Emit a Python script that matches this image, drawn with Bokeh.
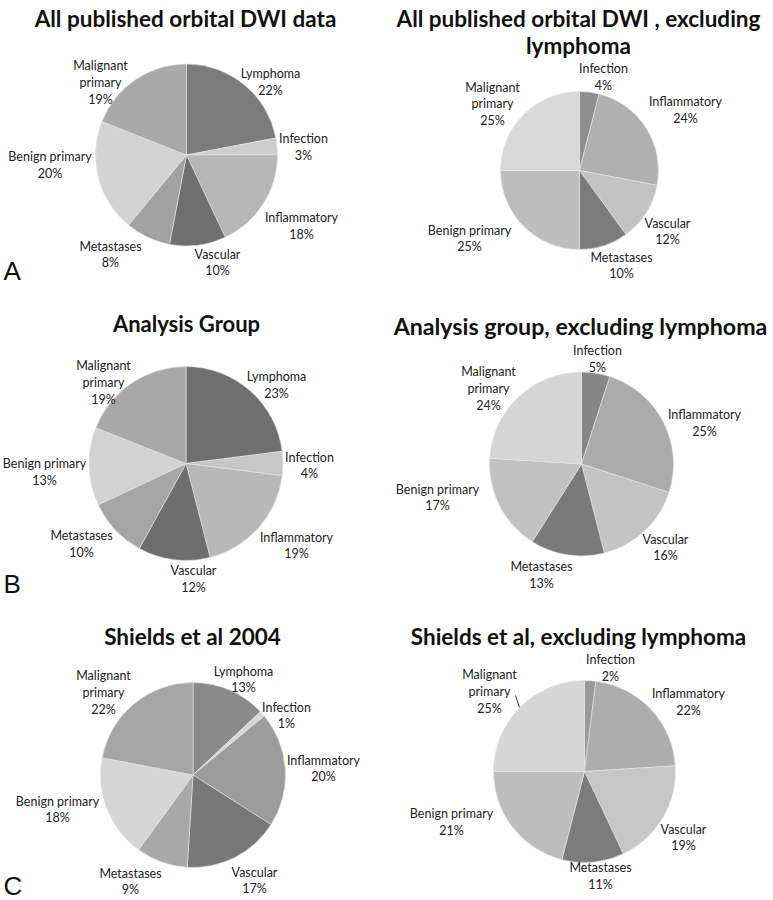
import math
from bokeh.plotting import figure
from bokeh.models import Range1d, ColumnDataSource
from bokeh.core.properties import value
from bokeh.embed import file_html
from bokeh.resources import INLINE

# ---------------- data ----------------
cats_all = ["Lymphoma", "Infection", "Inflammatory", "Vascular",
            "Metastases", "Benign primary", "Malignant primary"]
cats_excl = ["Infection", "Inflammatory", "Vascular",
             "Metastases", "Benign primary", "Malignant primary"]

titles = ["All published orbital DWI data",
          "All published orbital DWI , excluding\nlymphoma",
          "Analysis Group",
          "Analysis group, excluding lymphoma",
          "Shields et al 2004",
          "Shields et al, excluding lymphoma"]

a_all = [22, 3, 18, 10, 8, 20, 19]
a_excl = [4, 24, 12, 10, 25, 25]
b_all = [23, 4, 19, 12, 10, 13, 19]
b_excl = [5, 25, 16, 13, 17, 24]
c_all = [13, 1, 20, 17, 9, 18, 22]
c_excl = [2, 22, 19, 11, 21, 25]

panel_letters = ["A", "B", "C"]

# ---------------- styling / layout ----------------
W, H = 773, 900
def Y(py):  # page pixel -> data y
    return H - py

colors_all_sets = [
    ["#7b7b7b", "#cdcdcd", "#b6b6b6", "#6f6f6f", "#a2a2a2", "#d3d3d3", "#a9a9a9"],
    ["#6f6f6f", "#c6c6c6", "#b8b8b8", "#6e6e6e", "#a5a5a5", "#d2d2d2", "#a8a8a8"],
    ["#8a8a8a", "#d6d6d6", "#9c9c9c", "#787878", "#a8a8a8", "#d6d6d6", "#a6a6a6"],
]
colors_excl_sets = [
    ["#8e8e8e", "#b0b0b0", "#c2c2c2", "#7b7b7b", "#bebebe", "#d8d8d8"],
    ["#868686", "#ababab", "#c4c4c4", "#7a7a7a", "#c1c1c1", "#d5d5d5"],
    ["#9a9a9a", "#adadad", "#c6c6c6", "#7b7b7b", "#bdbdbd", "#d6d6d6"],
]

pies = [
    # (values, categories, colors, cx, cy, r, label positions)
    (a_all, cats_all, colors_all_sets[0], 186, 154.5, 91,
     [(270, 81.5), (303, 146.5), (301, 225.5), (217, 262), (110, 254), (49.5, 164.5), (100, 82)]),
    (a_excl, cats_excl, colors_excl_sets[0], 579, 170, 79,
     [(603, 76.5), (685, 109.5), (667, 231), (621, 265), (469, 238), (492, 103.5)]),
    (b_all, cats_all, colors_all_sets[1], 185.5, 463, 97,
     [(276, 384.5), (309, 465), (296, 545), (193, 578.5), (81, 543.5), (44, 471.5), (103, 382)]),
    (b_excl, cats_excl, colors_excl_sets[1], 581, 463.5, 92,
     [(597, 358.5), (704, 422.5), (665, 547), (541, 574.5), (437, 497), (488, 388)]),
    (c_all, cats_all, colors_all_sets[2], 192.5, 774.5, 92.5,
     [(243, 679), (286, 715), (323, 768), (254, 880), (130, 881), (57, 809), (103, 692)]),
    (c_excl, cats_excl, colors_excl_sets[2], 584, 771, 91,
     [(610, 667.5), (688, 701.5), (683, 837), (600, 875.5), (451, 821.5), (489, 691)]),
]

title_pos = [(185, 18), (578, 18), (186, 323), (580, 325), (192, 636), (578, 636)]
title_sizes = ["22.5px", "22.5px", "22px", "23.2px", "22.5px", "22.5px"]
letter_pos = [(3, 270), (3, 583), (3, 885)]

p = figure(width=W, height=H, x_range=Range1d(0, W), y_range=Range1d(0, H),
           output_backend="svg", toolbar_location=None,
           x_axis_location=None, y_axis_location=None, min_border=0)
p.outline_line_color = None
p.xgrid.visible = False
p.ygrid.visible = False
p.background_fill_color = "white"

LABEL_FONT = value("Lato")

for vals, cats, cols, cx, cy, r, lpos in pies:
    total = float(sum(vals))
    starts, ends = [], []
    cum = 0.0
    for v in vals:
        a0 = cum / total * 2 * math.pi
        cum += v
        a1 = cum / total * 2 * math.pi
        # clockwise from 12 o'clock
        starts.append(math.pi / 2 - a1)
        ends.append(math.pi / 2 - a0)
    src = ColumnDataSource(dict(x=[cx] * len(vals), y=[Y(cy)] * len(vals),
                                start=starts, end=ends, color=cols))
    p.wedge(x="x", y="y", radius=r, start_angle="start", end_angle="end",
            direction="anticlock", fill_color="color", line_color="#e6e6e6",
            line_width=0.6, source=src)
    labels = []
    for c, v in zip(cats, vals):
        name = c.replace("Malignant primary", "Malignant\nprimary")
        labels.append(f"{name}\n{v}%")
    lsrc = ColumnDataSource(dict(x=[q[0] for q in lpos], y=[Y(q[1]) for q in lpos], t=labels))
    p.text(x="x", y="y", text="t", source=lsrc, text_align="center",
           text_baseline="middle", text_font=LABEL_FONT, text_font_size="12.5px",
           text_line_height=1.12, text_color="#222222")

# leader line in last pie
p.line(x=[515, 519], y=[Y(695), Y(707)], line_color="#333333", line_width=1)

# titles
for t, (tx, ty), fs in zip(titles, title_pos, title_sizes):
    lines = t.split("\n")
    for i, ln in enumerate(lines):
        p.text(x=[tx], y=[Y(ty + 27 * i)], text=[ln], text_align="center",
               text_baseline="alphabetic", text_font=LABEL_FONT,
               text_font_style="bold", text_font_size=fs, text_color="#111111")

for L, (lx, ly) in zip(panel_letters, letter_pos):
    p.text(x=[lx], y=[Y(ly)], text=[L], text_align="left", text_baseline="alphabetic",
           text_font=value("Liberation Sans"), text_font_size="26px", text_color="#111111")

open("out.html", "w").write(file_html(p, INLINE))
